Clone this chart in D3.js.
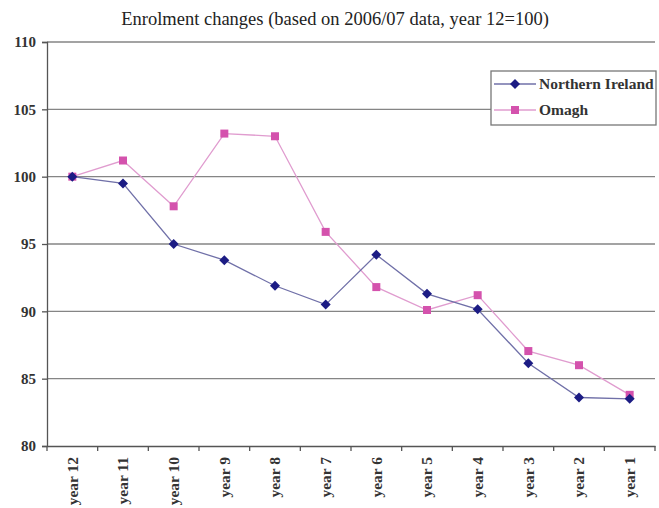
<!DOCTYPE html>
<html><head><meta charset="utf-8">
<script src="https://cdn.jsdelivr.net/npm/d3@7"></script>
<style>body{margin:0;background:#fff;}svg{display:block;}</style>
</head><body>
<script>
const categories = ["year 12","year 11","year 10","year 9","year 8","year 7","year 6","year 5","year 4","year 3","year 2","year 1"];
const northernIreland = [100, 99.5, 95.0, 93.8, 91.9, 90.5, 94.2, 91.3, 90.15, 86.15, 83.6, 83.5];
const omagh = [100, 101.2, 97.8, 103.2, 103.0, 95.9, 91.8, 90.1, 91.2, 87.05, 86.0, 83.8];
const yTicks = [80, 85, 90, 95, 100, 105, 110];
const seriesNames = ["Northern Ireland", "Omagh"];
const title = "Enrolment changes (based on 2006/07 data, year 12=100)";

const W = 659, H = 508;
const m = {left: 47, right: 4, top: 42, bottom: 62};
const FONT = "'Liberation Serif', 'Times New Roman', serif";
const svg = d3.select("body").append("svg").attr("width", W).attr("height", H);
const x = d3.scaleBand().domain(categories).range([m.left, W - m.right]);
const y = d3.scaleLinear().domain([80, 110]).range([H - m.bottom, m.top]);

svg.append("text").attr("x", 335).attr("y", 25).attr("text-anchor", "middle")
  .style("font-family", FONT).style("font-size", "18.5px").attr("fill", "#222")
  .text(title);

// gridlines
svg.append("g").selectAll("line").data(yTicks.filter(d => d > 80)).join("line")
  .attr("x1", m.left).attr("x2", W - m.right)
  .attr("y1", d => y(d)).attr("y2", d => y(d))
  .attr("stroke", "#858585").attr("stroke-width", 1.3);

// y axis
const ya = svg.append("g").attr("transform", `translate(${m.left},0)`)
  .call(d3.axisLeft(y).tickValues(yTicks).tickSize(5).tickPadding(6));
ya.selectAll("path,line").attr("stroke", "#555").attr("stroke-width", 1.3);
ya.selectAll("text").style("font-family", FONT).style("font-size", "15px")
  .style("font-weight", "bold").attr("fill", "#333");

// x axis
const xa = svg.append("g").attr("transform", `translate(0,${H - m.bottom})`)
  .call(d3.axisBottom(x).tickSize(0).tickPadding(0));
xa.select("path").attr("stroke", "#555").attr("stroke-width", 1.3);
xa.selectAll(".tick text").attr("transform", "rotate(-90)").attr("text-anchor", "end")
  .attr("x", -11).attr("y", 0).attr("dy", "0.35em")
  .style("font-family", FONT).style("font-size", "15.5px")
  .style("font-weight", "bold").attr("fill", "#333");
// boundary ticks
const bounds = categories.map(c => x(c)).concat([x(categories[categories.length-1]) + x.bandwidth()]);
svg.append("g").selectAll("line").data(bounds).join("line")
  .attr("x1", d => d).attr("x2", d => d).attr("y1", H - m.bottom).attr("y2", H - m.bottom + 5)
  .attr("stroke", "#555").attr("stroke-width", 1.3);

const cx = c => x(c) + x.bandwidth() / 2;
const line = d3.line().x((d, i) => cx(categories[i])).y(d => y(d));
const diamond = "M0,-5L5,0L0,5L-5,0Z";

// Omagh
svg.append("path").datum(omagh).attr("d", line).attr("fill", "none")
  .attr("stroke", "#e09ccf").attr("stroke-width", 1.3);
// NI
svg.append("path").datum(northernIreland).attr("d", line).attr("fill", "none")
  .attr("stroke", "#7070a8").attr("stroke-width", 1.3);

svg.append("g").selectAll("rect").data(omagh).join("rect")
  .attr("x", (d, i) => cx(categories[i]) - 4).attr("y", d => y(d) - 4)
  .attr("width", 8).attr("height", 8).attr("fill", "#d452ad");
svg.append("g").selectAll("path").data(northernIreland).join("path")
  .attr("d", diamond)
  .attr("transform", (d, i) => `translate(${cx(categories[i])},${y(d)})`)
  .attr("fill", "#1c1c84");

// legend
const lg = svg.append("g");
lg.append("rect").attr("x", 491).attr("y", 71).attr("width", 165).attr("height", 54)
  .attr("fill", "#fff").attr("stroke", "#777").attr("stroke-width", 1.3);
const rows = [{name: seriesNames[0], color: "#7070a8", mk: "#1c1c84", yy: 84},
              {name: seriesNames[1], color: "#e09ccf", mk: "#d452ad", yy: 110}];
rows.forEach((r, i) => {
  lg.append("line").attr("x1", 494).attr("x2", 536).attr("y1", r.yy).attr("y2", r.yy)
    .attr("stroke", r.color).attr("stroke-width", 1.3);
  if (i === 0) lg.append("path").attr("d", diamond)
    .attr("transform", `translate(515,${r.yy})`).attr("fill", r.mk);
  else lg.append("rect").attr("x", 511).attr("y", r.yy - 4).attr("width", 8).attr("height", 8).attr("fill", r.mk);
  lg.append("text").attr("x", 539).attr("y", r.yy).attr("dy", "0.35em")
    .style("font-family", FONT).style("font-size", "15.5px")
    .style("font-weight", "bold").attr("fill", "#333").text(r.name);
});
</script>
</body></html>
